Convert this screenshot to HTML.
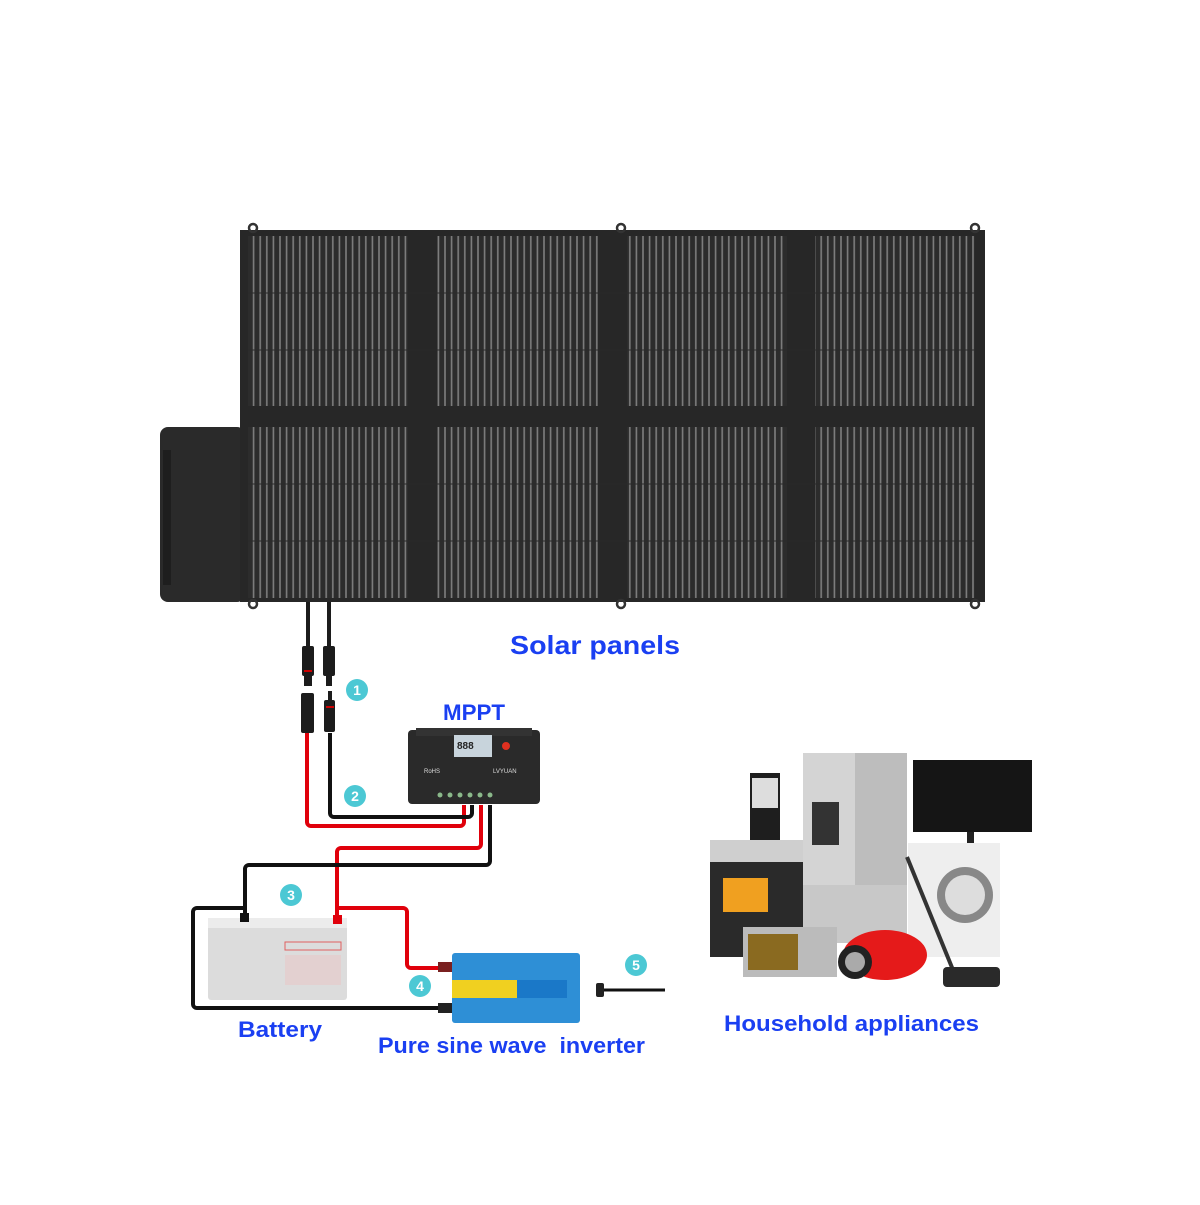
<!DOCTYPE html>
<html><head><meta charset="utf-8"><style>
html,body{margin:0;padding:0;background:#fff}
.t{font-family:"Liberation Sans",sans-serif;font-weight:bold;fill:#1a3ff2}
</style></head><body>
<svg width="1200" height="1200" viewBox="0 0 1200 1200" xmlns="http://www.w3.org/2000/svg">
<defs>
<pattern id="st" width="6.6" height="20" patternUnits="userSpaceOnUse">
<rect width="6.6" height="20" fill="#2c2c2c"/>
<rect x="2" width="1.6" height="20" fill="#7e7e7e"/>
</pattern>
</defs>
<rect x="160" y="427" width="85" height="175" rx="8" fill="#2a2a2a"/>
<rect x="163" y="450" width="8" height="135" fill="#1e1e1e"/>
<rect x="240" y="230" width="745" height="372" fill="#272727"/>
<g fill="url(#st)">
<rect x="248" y="236" width="160" height="170"/><rect x="437" y="236" width="161" height="170"/>
<rect x="627" y="236" width="160" height="170"/><rect x="815" y="236" width="160" height="170"/>
<rect x="248" y="427" width="160" height="171"/><rect x="437" y="427" width="161" height="171"/>
<rect x="627" y="427" width="160" height="171"/><rect x="815" y="427" width="160" height="171"/>
</g>
<g stroke="#2a2a2a" stroke-width="1">
<line x1="248" y1="293" x2="975" y2="293"/><line x1="248" y1="350" x2="975" y2="350"/>
<line x1="248" y1="484" x2="975" y2="484"/><line x1="248" y1="541" x2="975" y2="541"/>
</g>
<g fill="none" stroke="#333" stroke-width="2.5">
<circle cx="253" cy="228" r="4"/><circle cx="621" cy="228" r="4"/><circle cx="975" cy="228" r="4"/>
<circle cx="253" cy="604" r="4"/><circle cx="621" cy="604" r="4"/><circle cx="975" cy="604" r="4"/>
</g>
<text x="510" y="654" class="t" font-size="26" textLength="170" lengthAdjust="spacingAndGlyphs">Solar panels</text>
<!-- connectors -->
<g fill="#1c1c1c">
<rect x="306" y="602" width="4" height="45"/><rect x="327" y="602" width="4" height="45"/>
<rect x="302" y="646" width="12" height="30" rx="2"/><rect x="323" y="646" width="12" height="30" rx="2"/>
<rect x="304" y="676" width="8" height="10"/><rect x="326" y="676" width="6" height="10"/>
<rect x="301" y="693" width="13" height="40" rx="2"/><rect x="324" y="700" width="11" height="32" rx="2"/>
<rect x="328" y="691" width="4" height="10"/>
</g>
<rect x="304" y="670" width="8" height="2" fill="#c00"/><rect x="326" y="706" width="8" height="2" fill="#c00"/>
<!-- wires -->
<g fill="none" stroke-width="4" stroke-linejoin="round">
<path d="M307 733 V822 a4 4 0 0 0 4 4 H460 a4 4 0 0 0 4 -4 V805" stroke="#e0000b"/>
<path d="M330 733 V813 a4 4 0 0 0 4 4 H468 a4 4 0 0 0 4 -4 V805" stroke="#111"/>
<path d="M481 805 V844 a4 4 0 0 1 -4 4 H341 a4 4 0 0 0 -4 4 V918" stroke="#e0000b"/>
<path d="M490 805 V861 a4 4 0 0 1 -4 4 H249 a4 4 0 0 0 -4 4 V918" stroke="#111"/>
<path d="M337 908 H403 a4 4 0 0 1 4 4 V964 a4 4 0 0 0 4 4 H442" stroke="#e0000b"/>
<path d="M245 908 H197 a4 4 0 0 0 -4 4 V1004 a4 4 0 0 0 4 4 H442" stroke="#111"/>
</g>
<!-- MPPT -->
<rect x="408" y="730" width="132" height="74" rx="4" fill="#2a2a2a"/>
<rect x="416" y="728" width="116" height="8" fill="#333"/>
<rect x="454" y="735" width="38" height="22" fill="#c8d4dc"/>
<text x="457" y="749" font-family="Liberation Sans,sans-serif" font-size="10" font-weight="bold" fill="#222">888</text>
<circle cx="506" cy="746" r="4" fill="#e03020"/>
<text x="424" y="773" font-family="Liberation Sans,sans-serif" font-size="6" fill="#ddd">RoHS</text>
<text x="493" y="773" font-family="Liberation Sans,sans-serif" font-size="6" fill="#ddd">LVYUAN</text>
<g fill="#8ab88a"><circle cx="440" cy="795" r="2.5"/><circle cx="450" cy="795" r="2.5"/><circle cx="460" cy="795" r="2.5"/><circle cx="470" cy="795" r="2.5"/><circle cx="480" cy="795" r="2.5"/><circle cx="490" cy="795" r="2.5"/></g>
<text x="443" y="720" class="t" font-size="22" textLength="62" lengthAdjust="spacingAndGlyphs">MPPT</text>
<!-- battery -->
<rect x="208" y="918" width="139" height="82" rx="3" fill="#dcdcdc"/>
<rect x="208" y="918" width="139" height="10" fill="#ececec"/>
<rect x="240" y="913" width="9" height="9" fill="#111"/><rect x="333" y="915" width="9" height="9" fill="#e0000b"/>
<rect x="285" y="942" width="56" height="8" fill="none" stroke="#e06060"/>
<rect x="285" y="955" width="56" height="30" fill="#e8c8c8" opacity=".6"/>
<text x="238" y="1037" class="t" font-size="22" textLength="84" lengthAdjust="spacingAndGlyphs">Battery</text>
<!-- inverter -->
<rect x="452" y="953" width="128" height="70" rx="3" fill="#2e8fd6"/>
<rect x="452" y="980" width="65" height="18" fill="#f0d020"/>
<rect x="517" y="980" width="50" height="18" fill="#1a78c8"/>
<rect x="438" y="962" width="14" height="10" fill="#7a2020"/><rect x="438" y="1003" width="14" height="10" fill="#222"/>
<text x="378" y="1053" class="t" font-size="22" xml:space="preserve" textLength="267" lengthAdjust="spacingAndGlyphs">Pure sine wave  inverter</text>
<!-- plug -->
<rect x="596" y="983" width="8" height="14" rx="2" fill="#222"/>
<line x1="604" y1="990" x2="665" y2="990" stroke="#111" stroke-width="3"/>
<!-- circles -->
<g fill="#4cc8d4"><circle cx="357" cy="690" r="11"/><circle cx="355" cy="796" r="11"/><circle cx="291" cy="895" r="11"/><circle cx="420" cy="986" r="11"/><circle cx="636" cy="965" r="11"/></g>
<g font-family="Liberation Sans,sans-serif" font-weight="bold" font-size="14" fill="#fff" text-anchor="middle">
<text x="357" y="695">1</text><text x="355" y="801">2</text><text x="291" y="900">3</text><text x="420" y="991">4</text><text x="636" y="970">5</text></g>
<!-- appliances -->
<rect x="803" y="753" width="104" height="190" fill="#c8c8c8"/>
<rect x="803" y="753" width="52" height="132" fill="#d4d4d4"/><rect x="855" y="753" width="52" height="132" fill="#bdbdbd"/>
<rect x="812" y="802" width="27" height="43" fill="#333"/>
<rect x="913" y="760" width="119" height="72" fill="#151515"/>
<rect x="967" y="832" width="7" height="12" fill="#222"/>
<rect x="908" y="843" width="92" height="114" fill="#eeeeee"/>
<circle cx="965" cy="895" r="28" fill="#888"/><circle cx="965" cy="895" r="20" fill="#ddd"/>
<rect x="710" y="840" width="93" height="117" fill="#2a2a2a"/>
<rect x="710" y="840" width="93" height="22" fill="#cfcfcf"/>
<rect x="723" y="878" width="45" height="34" fill="#f0a020"/>
<rect x="750" y="773" width="30" height="67" fill="#1e1e1e"/>
<rect x="752" y="778" width="26" height="30" fill="#ddd"/>
<rect x="743" y="927" width="94" height="50" fill="#bbb"/>
<rect x="748" y="934" width="50" height="36" fill="#8a6a20"/>
<ellipse cx="885" cy="955" rx="42" ry="25" fill="#e51a1a"/>
<circle cx="855" cy="962" r="17" fill="#222"/><circle cx="855" cy="962" r="10" fill="#aaa"/>
<line x1="907" y1="857" x2="953" y2="970" stroke="#333" stroke-width="4"/>
<rect x="943" y="967" width="57" height="20" rx="4" fill="#2a2a2a"/>
<text x="724" y="1031" class="t" font-size="22" textLength="255" lengthAdjust="spacingAndGlyphs">Household appliances</text>
</svg>
</body></html>
